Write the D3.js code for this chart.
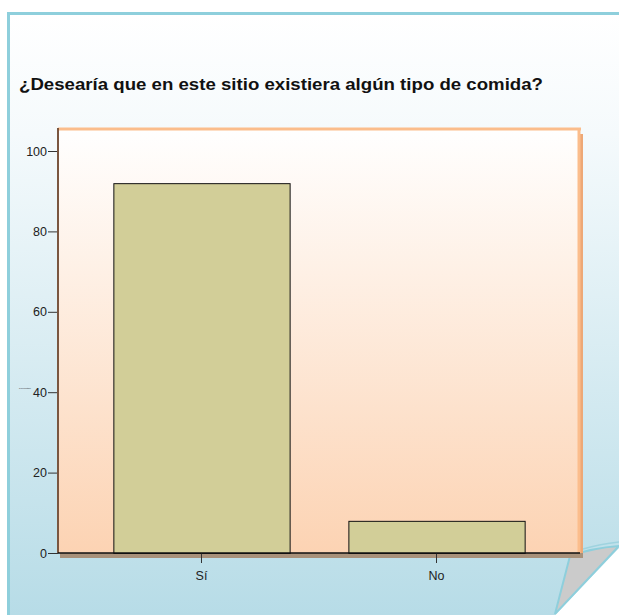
<!DOCTYPE html>
<html>
<head>
<meta charset="utf-8">
<script src="https://cdn.jsdelivr.net/npm/d3@7"></script>
<style>
  body { margin: 0; background: #fff; }
  text { font-family: "Liberation Sans", Arial, sans-serif; }
</style>
</head>
<body>
<div id="chart"></div>
<script>
// data
const categories = ["Sí", "No"];
const values = [92, 8];
const yTicks = [0, 20, 40, 60, 80, 100];
const title = "¿Desearía que en este sitio existiera algún tipo de comida?";
const yTitle = "Porcentaje";

const W = 619, H = 615;
const plot = {left: 58, right: 580, top: 128, bottom: 553};

const svg = d3.select("#chart").append("svg")
  .attr("width", W).attr("height", H);

const defs = svg.append("defs");
const bgGrad = defs.append("linearGradient").attr("id", "bg")
  .attr("x1", 0).attr("y1", 0).attr("x2", 0).attr("y2", 1);
bgGrad.append("stop").attr("offset", "0%").attr("stop-color", "#ffffff");
bgGrad.append("stop").attr("offset", "20%").attr("stop-color", "#f5fafc");
bgGrad.append("stop").attr("offset", "100%").attr("stop-color", "#b7dce7");

const plotGrad = defs.append("linearGradient").attr("id", "plotbg")
  .attr("x1", 0).attr("y1", 0).attr("x2", 0).attr("y2", 1);
plotGrad.append("stop").attr("offset", "0%").attr("stop-color", "#ffffff");
plotGrad.append("stop").attr("offset", "100%").attr("stop-color", "#fcd3b3");

// outer panel with cut corner
svg.append("path")
  .attr("d", "M8,13 L619,13 L619,548 L555,615 L8,615 Z")
  .attr("fill", "url(#bg)");
svg.append("path")
  .attr("d", "M8.5,615 L8.5,13.5 L619,13.5")
  .attr("fill", "none").attr("stroke", "#8ecfdc").attr("stroke-width", 3);

// page curl
svg.append("path")
  .attr("d", "M570,556 Q592,548 619,546 L555,614 Z")
  .attr("fill", "#cbcbcb")
  .attr("stroke", "#8ecfdc").attr("stroke-width", 2);
svg.append("path")
  .attr("d", "M583,549 Q600,544 619,542")
  .attr("fill", "none").attr("stroke", "#9fd3df").attr("stroke-width", 1.5);

// title
svg.append("text")
  .attr("x", 19).attr("y", 90)
  .attr("font-size", 17).attr("font-weight", "bold").attr("fill", "#111")
  .attr("textLength", 524).attr("lengthAdjust", "spacingAndGlyphs")
  .text(title);

// plot shadows
svg.append("rect")
  .attr("x", plot.right).attr("y", plot.top + 6)
  .attr("width", 3).attr("height", plot.bottom - plot.top - 6 + 5)
  .attr("fill", "#eea876");
svg.append("rect")
  .attr("x", plot.left + 2).attr("y", plot.bottom)
  .attr("width", plot.right - plot.left + 1).attr("height", 5)
  .attr("fill", "#a8917a");

// plot background
svg.append("rect")
  .attr("x", plot.left).attr("y", plot.top)
  .attr("width", plot.right - plot.left).attr("height", plot.bottom - plot.top)
  .attr("fill", "url(#plotbg)");
svg.append("line")
  .attr("x1", plot.left).attr("x2", plot.right + 1)
  .attr("y1", plot.top + 1).attr("y2", plot.top + 1)
  .attr("stroke", "#fbbd8c").attr("stroke-width", 3);
svg.append("line")
  .attr("x1", plot.right - 1).attr("x2", plot.right - 1)
  .attr("y1", plot.top).attr("y2", plot.bottom)
  .attr("stroke", "#fbbd8c").attr("stroke-width", 3);

// scales
const x = d3.scaleBand()
  .domain(categories)
  .range([plot.left, plot.right])
  .paddingInner(0.25)
  .paddingOuter(0.2355);

const y = d3.scaleLinear()
  .domain([0, 100])
  .range([plot.bottom, 151]);

// bars
svg.selectAll(".bar")
  .data(categories.map((c, i) => ({cat: c, val: values[i]})))
  .enter().append("rect")
  .attr("class", "bar")
  .attr("x", d => x(d.cat) + 0.5)
  .attr("y", d => y(d.val) + 0.5)
  .attr("width", x.bandwidth())
  .attr("height", d => y(0) - y(d.val))
  .attr("fill", "#d2ce98")
  .attr("stroke", "#111").attr("stroke-width", 1);

// y axis
const yAxis = d3.axisLeft(y).tickValues(yTicks).tickSize(10).tickPadding(1);
const gy = svg.append("g")
  .attr("transform", `translate(${plot.left},0)`)
  .call(yAxis);
gy.select(".domain").remove();
gy.selectAll(".tick line").attr("stroke", "#333");
gy.selectAll(".tick text")
  .attr("font-size", 12.5).attr("fill", "#222")
  .attr("font-family", "Liberation Sans, Arial, sans-serif");
svg.append("line")
  .attr("x1", plot.left).attr("x2", plot.left)
  .attr("y1", plot.top).attr("y2", plot.bottom)
  .attr("stroke", "#7a5640").attr("stroke-width", 2);

// x axis
const xAxis = d3.axisBottom(x).tickSize(10).tickPadding(8);
const gx = svg.append("g")
  .attr("transform", `translate(0,${plot.bottom})`)
  .call(xAxis);
gx.select(".domain").remove();
gx.selectAll(".tick line").attr("stroke", "#333");
gx.selectAll(".tick text")
  .attr("font-size", 12.5).attr("fill", "#222")
  .attr("font-family", "Liberation Sans, Arial, sans-serif");
svg.append("line")
  .attr("x1", plot.left).attr("x2", plot.right)
  .attr("y1", plot.bottom).attr("y2", plot.bottom)
  .attr("stroke", "#111").attr("stroke-width", 1.5);

// tiny axis title
svg.append("text")
  .attr("x", 19).attr("y", 389)
  .attr("font-size", 2.5).attr("fill", "#333")
  .text(yTitle);
</script>
</body>
</html>
